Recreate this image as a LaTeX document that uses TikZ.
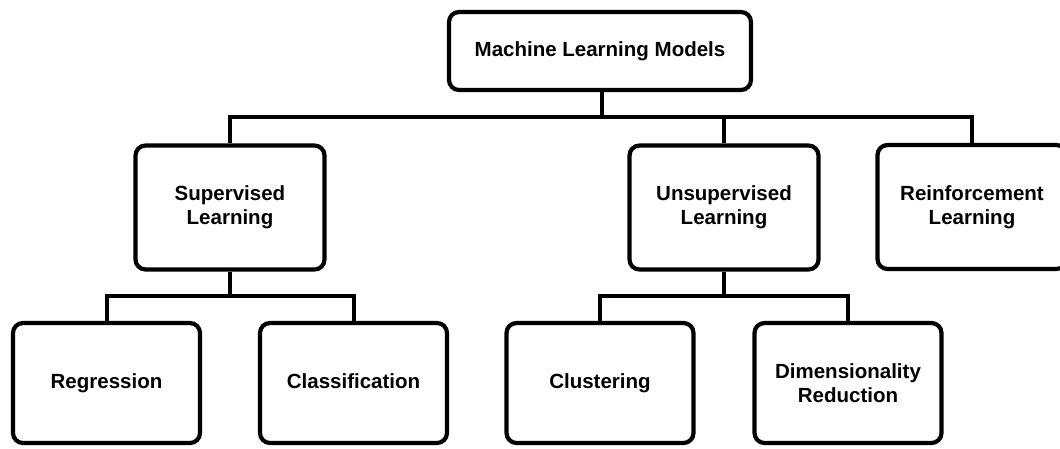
\documentclass[tikz,border=0pt]{standalone}
\usepackage{fontspec}
\setmainfont{Liberation Sans}
\begin{document}
\begin{tikzpicture}[x=1pt,y=-1pt,
  box/.style={draw=black,line width=4.2pt,rounded corners=10pt,fill=white,
    align=center,font=\fontsize{20.5pt}{24pt}\selectfont\bfseries,inner sep=0pt},
  oneline/.style={text height=15pt,text depth=4.5pt},
  topbox/.style={box,oneline,minimum width=302pt,minimum height=78pt},
  midbox/.style={box,minimum width=189pt,minimum height=124pt},
  lowbox/.style={box,minimum width=187pt,minimum height=120pt},
  conn/.style={draw=black,line width=4pt,line join=miter}]
\useasboundingbox (0,0) rectangle (1060,448);
\node[topbox] (ml) at (600,51) {Machine Learning Models};
\node[midbox] (sup) at (230,207.5) {Supervised\\Learning};
\node[midbox] (uns) at (724,207.5) {Unsupervised\\Learning};
\node[midbox] (rl) at (972,207) {Reinforcement\\Learning};
\node[lowbox,oneline] (reg) at (106.5,383) {Regression};
\node[lowbox,oneline] (cls) at (353.5,383) {Classification};
\node[lowbox,oneline] (clu) at (600,383) {Clustering};
\node[lowbox] (dim) at (848,383) {Dimensionality\\Reduction};
\coordinate (j1) at (602,117);
\coordinate (j2) at (230,296);
\coordinate (j3) at (724,296);
\draw[conn] (ml.south -| j1) -- (j1);
\draw[conn] (sup.north) |- (j1) -| (rl.north);
\draw[conn] (j1) -| (uns.north);
\draw[conn] (sup.south) -- (j2);
\draw[conn] (reg.north) |- (j2) -| (cls.north);
\draw[conn] (uns.south) -- (j3);
\draw[conn] (clu.north) |- (j3) -| (dim.north);
\end{tikzpicture}
\end{document}
